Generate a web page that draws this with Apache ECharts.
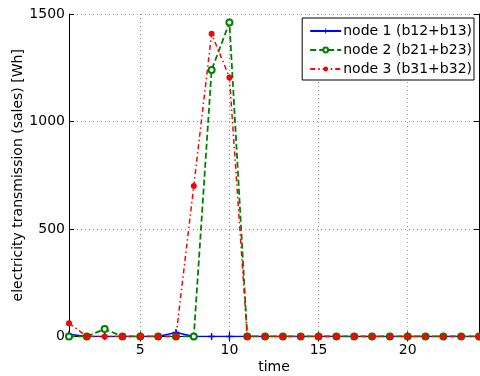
<!DOCTYPE html>
<html><head><meta charset="utf-8">
<script src="https://cdn.jsdelivr.net/npm/echarts@6/dist/echarts.min.js"></script>
<style>html,body{margin:0;padding:0;background:#fff}#c{width:480px;height:376px}</style>
</head><body><div id="c"></div>
<script>
var times = [1,2,3,4,5,6,7,8,9,10,11,12,13,14,15,16,17,18,19,20,21,22,23,24];
var node1 = [10,0,0,0,0,0,19,0,0,0,0,0,0,0,0,0,0,0,0,0,0,0,0,0];
var node2 = [0,0,35,0,0,0,0,0,1240,1460,0,0,0,0,0,0,0,0,0,0,0,0,0,0];
var node3 = [62,0,0,0,0,0,0,700,1408,1205,0,0,0,0,0,0,0,0,0,0,0,0,0,0];
var yTicks = [0,500,1000,1500];
var names = ['node 1 (b12+b13)','node 2 (b21+b23)','node 3 (b31+b32)'];

var F = 'DejaVu Sans';
var showTick = function(i, v){ return Number(v) % 5 === 0; };
var chart = echarts.init(document.getElementById('c'), null, {renderer:'canvas'});
chart.setOption({
  animation:false,
  textStyle:{fontFamily:F},
  grid:{left:69, right:1, top:14, bottom:39.5, outerBoundsMode:'none', containLabel:false},
  legend:{
    orient:'vertical', right:6, top:18,
    backgroundColor:'#fff', borderColor:'#000', borderWidth:1,
    padding:[6,2,4,7], itemGap:5, itemWidth:31, itemHeight:6,
    textStyle:{fontFamily:F, fontSize:14, color:'#000', padding:[0,0,0,-3]},
    data: names
  },
  xAxis:[{
    type:'category', data:times, boundaryGap:false,
    name:'time', nameLocation:'middle', nameGap:24, nameMoveOverlap:false,
    nameTextStyle:{fontFamily:F, fontSize:14, color:'#000'},
    axisLine:{lineStyle:{color:'#000', width:1}},
    axisTick:{inside:true, length:5, interval:showTick, lineStyle:{color:'#000'}},
    axisLabel:{interval:showTick, fontFamily:F, fontSize:14, color:'#000', margin:7},
    splitLine:{show:true, interval:showTick, lineStyle:{color:'#999', type:[1,3]}}
  },{
    type:'category', data:times, boundaryGap:false, position:'top',
    axisLine:{lineStyle:{color:'#000', width:1}},
    axisTick:{inside:true, length:5, interval:showTick, lineStyle:{color:'#000'}},
    axisLabel:{show:false}, splitLine:{show:false}
  }],
  yAxis:[{
    type:'value', min:yTicks[0], max:yTicks[yTicks.length-1], interval:500,
    name:'electricity transmission (sales) [Wh]', nameLocation:'middle', nameGap:44, nameMoveOverlap:false,
    nameTextStyle:{fontFamily:F, fontSize:14, color:'#000'},
    axisLine:{show:true, lineStyle:{color:'#000', width:1}},
    axisTick:{show:true, inside:true, length:5, lineStyle:{color:'#000'}},
    axisLabel:{fontFamily:F, fontSize:14, color:'#000', margin:4, formatter:function(v){return String(v);}},
    splitLine:{show:true, lineStyle:{color:'#999', type:[1,3]}}
  },{
    type:'value', min:yTicks[0], max:yTicks[yTicks.length-1], interval:500, position:'right',
    axisLine:{show:true, lineStyle:{color:'#000', width:1}},
    axisTick:{show:true, inside:true, length:5, lineStyle:{color:'#000'}},
    axisLabel:{show:false}, splitLine:{show:false}
  }],
  series:[{
    name:names[0], type:'line', data:node1, showAllSymbol:true,
    symbol:'path://M4,0H6V4H10V6H6V10H4V6H0V4H4Z', symbolSize:7,
    itemStyle:{color:'#0000ff'},
    lineStyle:{color:'#0000ff', width:1.5}
  },{
    name:names[1], type:'line', data:node2, showAllSymbol:true,
    symbol:'emptyCircle', symbolSize:6,
    itemStyle:{color:'#008000', borderColor:'#008000', borderWidth:1.5},
    lineStyle:{color:'#008000', width:1.8, type:[6,3]}
  },{
    name:names[2], type:'line', data:node3, showAllSymbol:true,
    symbol:'circle', symbolSize:6,
    itemStyle:{color:'#ff0000'},
    lineStyle:{color:'#ff0000', width:1.5, type:[5,3,1.5,3]}
  }]
});
</script></body></html>
